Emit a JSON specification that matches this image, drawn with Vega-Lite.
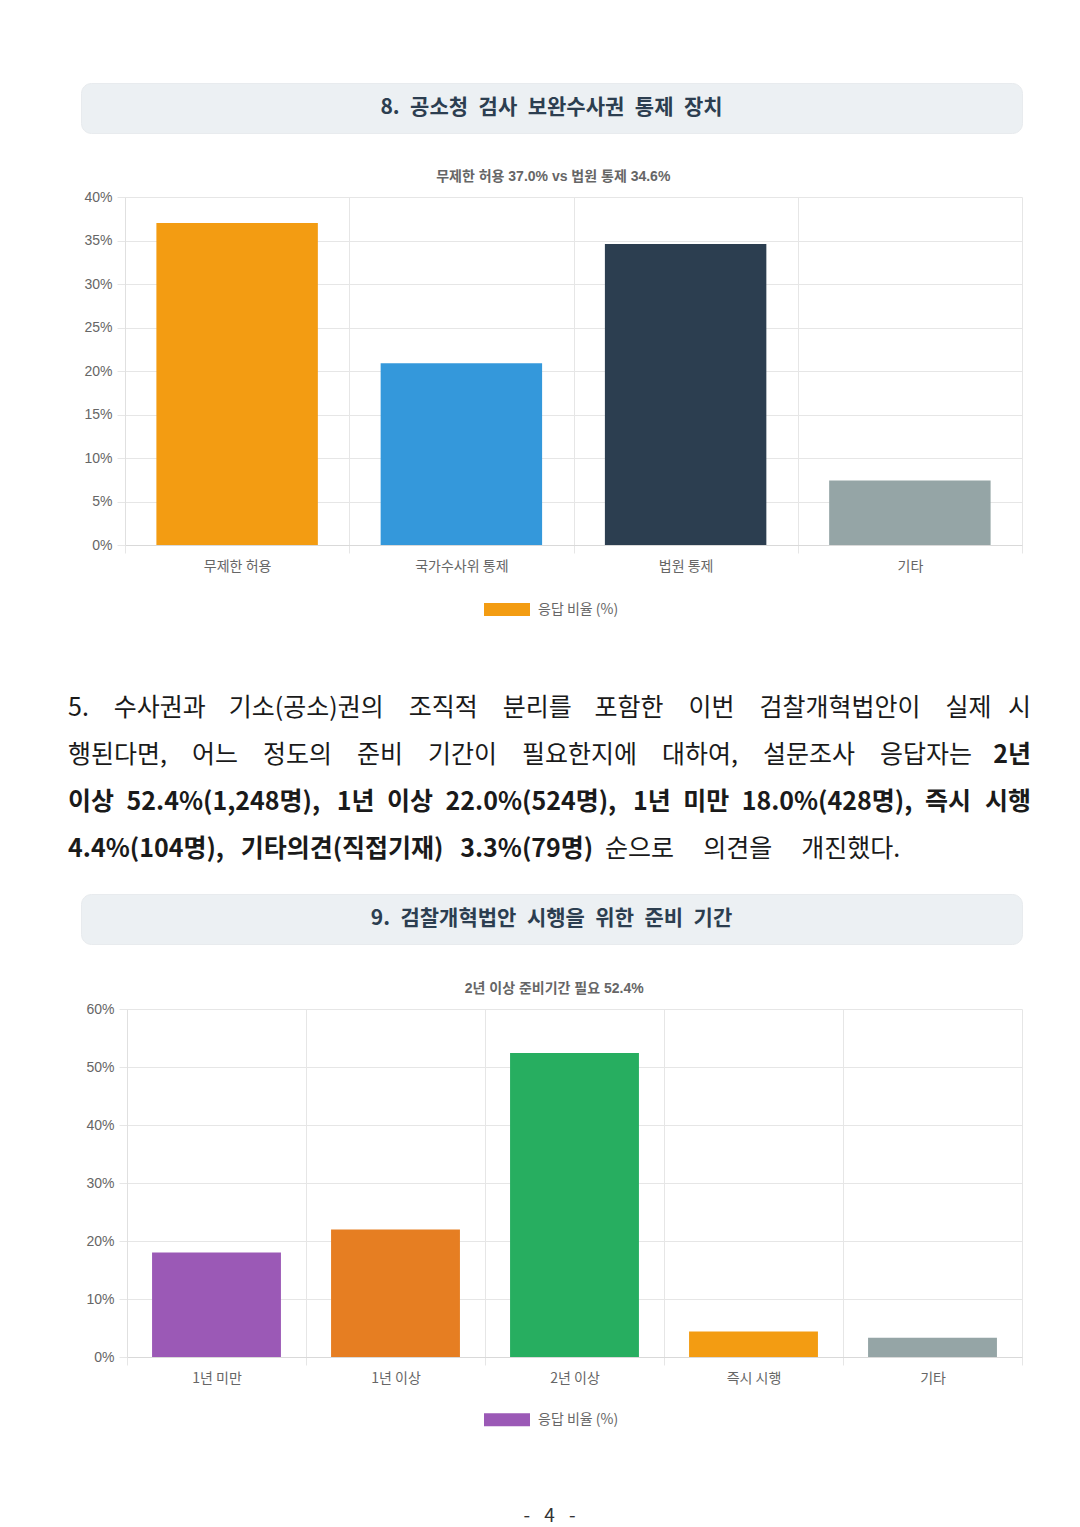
{
  "$schema": "https://vega.github.io/schema/vega-lite/v6.json",
  "background": "white",
  "padding": {"left": 68, "top": 82, "right": 10, "bottom": 10},
  "spacing": 0,
  "config": {
    "view": {"stroke": null},
    "font": "Noto Sans CJK KR",
    "concat": {"spacing": 0}
  },
  "datasets": {
    "chart8": [
      {"category": "무제한 허용", "value": 37.0},
      {"category": "국가수사위 통제", "value": 20.9},
      {"category": "법원 통제", "value": 34.6},
      {"category": "기타", "value": 7.4}
    ],
    "chart9": [
      {"category": "1년 미만", "value": 18.0},
      {"category": "1년 이상", "value": 22.0},
      {"category": "2년 이상", "value": 52.4},
      {"category": "즉시 시행", "value": 4.4},
      {"category": "기타", "value": 3.3}
    ],
    "para_normal_left": [
      {"line": 1, "text": "5.\u2003수사권과\u2002\u2005\u2006기소(공소)권의\u2003조직적\u2003분리를\u2002\u2005\u2006포함한\u2003이번\u2003검찰개혁법안이\u2003실제"},
      {"line": 2, "text": "행된다면,\u2003어느\u2003정도의\u2003준비\u2003기간이\u2003필요한지에\u2003대하여,\u2003설문조사\u2003응답자는"}
    ],
    "para_normal_right": [
      {"line": 1, "text": "시"}
    ],
    "para_bold_left": [
      {"line": 3, "text": "이상\u200252.4%(1,248명),\u2002\u20061년\u2002이상\u200222.0%(524명),\u2002\u20061년\u2002미만\u200218.0%(428명),\u2002즉시"},
      {"line": 4, "text": "4.4%(104명),\u2002\u2006기타의견(직접기재)\u2002\u20063.3%(79명)"}
    ],
    "para_bold_right": [
      {"line": 2, "text": "2년"},
      {"line": 3, "text": "시행"}
    ],
    "para_normal_tail": [
      {"line": 4, "text": "순으로\u2003\u2006의견을\u2003\u2006개진했다."}
    ]
  },
  "vconcat": [
    {
      "spacing": 0,
      "hconcat": [
        {"width": 12, "height": 1, "data": {"values": []}, "mark": "point"},
        {
          "width": 941, "height": 50,
          "view": {"fill": "#ecf0f3", "cornerRadius": 10, "stroke": "#e8ebee", "strokeWidth": 1},
          "data": {"values": [{"t": "8.\u2002공소청\u2002검사\u2002보완수사권\u2002통제\u2002장치"}]},
          "mark": {"type": "text", "fontSize": 21, "fontWeight": "bold", "color": "#2c3e50", "font": "Noto Sans CJK KR", "baseline": "middle"},
          "encoding": {"text": {"field": "t"}}
        }
      ]
    },
    {"width": 1, "height": 36, "data": {"values": []}, "mark": "point"},
    {
      "spacing": 0,
      "hconcat": [
        {"width": 15, "height": 1, "data": {"values": []}, "mark": "point"},
        {
          "width": 897, "height": 348,
          "title": {"text": "무제한 허용 37.0% vs 법원 통제 34.6%", "anchor": "middle", "frame": "bounds", "fontSize": 14, "fontWeight": "bold", "color": "#666666", "font": "Liberation Sans, Noto Sans CJK KR", "offset": 6},
          "layer": [
            {
              "data": {"name": "chart8"},
              "mark": {"type": "bar", "width": {"band": 0.72}},
              "encoding": {
                "x": {"field": "category", "type": "nominal", "sort": null,
                  "scale": {"domain": ["무제한 허용", "국가수사위 통제", "법원 통제", "기타"], "paddingInner": 0, "paddingOuter": 0},
                  "axis": {"title": null, "labelAngle": 0, "tickBand": "extent", "grid": true, "gridColor": "#e6e6e6", "domainColor": "#d9d9d9", "tickColor": "#e6e6e6", "tickSize": 8, "labelPadding": 6, "labelFontSize": 14, "labelColor": "#666666", "labelFont": "Noto Sans CJK KR"}},
                "y": {"field": "value", "type": "quantitative",
                  "scale": {"domain": [0, 40]},
                  "axis": {"title": null, "tickCount": 8, "labelExpr": "datum.value + '%'", "gridColor": "#e6e6e6", "domainColor": "#e0e0e0", "tickColor": "#e6e6e6", "tickSize": 8, "labelPadding": 5, "labelFontSize": 14, "labelColor": "#666666", "labelFont": "Liberation Sans"}},
                "color": {"field": "category", "type": "nominal", "sort": null,
                  "scale": {"domain": ["무제한 허용", "국가수사위 통제", "법원 통제", "기타"], "range": ["#f39c12", "#3498db", "#2c3e50", "#95a5a6"]},
                  "legend": null}
              }
            },
            {
              "data": {"values": [{"category": "무제한 허용", "value": 0, "series": "응답 비율 (%)"}]},
              "mark": {"type": "point", "filled": true, "opacity": 0},
              "encoding": {
                "x": {"field": "category", "type": "nominal", "sort": null},
                "y": {"field": "value", "type": "quantitative"},
                "color": {"field": "series", "type": "nominal",
                  "scale": {"domain": ["응답 비율 (%)"], "range": ["#f39c12"]},
                  "legend": {"orient": "none", "legendX": 359, "legendY": 389.5, "title": null, "symbolType": "M-1,-0.283H1V0.283H-1Z", "symbolSize": 2116, "symbolOpacity": 1, "symbolStrokeWidth": 0, "labelFontSize": 14, "labelColor": "#666666", "labelFont": "Noto Sans CJK KR", "labelOffset": 8, "padding": 0}}
              }
            }
          ],
          "resolve": {"scale": {"color": "independent"}}
        }
      ]
    },
    {"width": 1, "height": 67, "data": {"values": []}, "mark": "point"},
    {
      "width": 963, "height": 189,
      "encoding": {
        "y": {"field": "line", "type": "ordinal", "scale": {"type": "point", "padding": 0.5, "domain": [1, 2, 3, 4]}, "axis": null}
      },
      "layer": [
        {
          "data": {"name": "para_normal_left"},
          "mark": {"type": "text", "align": "left", "baseline": "middle", "fontSize": 25, "font": "Noto Sans CJK KR", "color": "#1a1a1a"},
          "encoding": {"x": {"value": 0}, "text": {"field": "text"}}
        },
        {
          "data": {"name": "para_normal_right"},
          "mark": {"type": "text", "align": "right", "baseline": "middle", "fontSize": 25, "font": "Noto Sans CJK KR", "color": "#1a1a1a"},
          "encoding": {"x": {"value": "width"}, "text": {"field": "text"}}
        },
        {
          "data": {"name": "para_bold_left"},
          "mark": {"type": "text", "align": "left", "baseline": "middle", "fontSize": 25, "fontWeight": "bold", "font": "Noto Sans CJK KR", "color": "#1a1a1a"},
          "encoding": {"x": {"value": 0}, "text": {"field": "text"}}
        },
        {
          "data": {"name": "para_bold_right"},
          "mark": {"type": "text", "align": "right", "baseline": "middle", "fontSize": 25, "fontWeight": "bold", "font": "Noto Sans CJK KR", "color": "#1a1a1a"},
          "encoding": {"x": {"value": "width"}, "text": {"field": "text"}}
        },
        {
          "data": {"name": "para_normal_tail"},
          "mark": {"type": "text", "align": "left", "baseline": "middle", "dx": 537, "fontSize": 25, "font": "Noto Sans CJK KR", "color": "#1a1a1a"},
          "encoding": {"x": {"value": 0}, "text": {"field": "text"}}
        }
      ]
    },
    {"width": 1, "height": 20, "data": {"values": []}, "mark": "point"},
    {
      "spacing": 0,
      "hconcat": [
        {"width": 12, "height": 1, "data": {"values": []}, "mark": "point"},
        {
          "width": 941, "height": 50,
          "view": {"fill": "#ecf0f3", "cornerRadius": 10, "stroke": "#e8ebee", "strokeWidth": 1},
          "data": {"values": [{"t": "9.\u2002검찰개혁법안\u2002시행을\u2002위한\u2002준비\u2002기간"}]},
          "mark": {"type": "text", "fontSize": 21, "fontWeight": "bold", "color": "#2c3e50", "font": "Noto Sans CJK KR", "baseline": "middle"},
          "encoding": {"text": {"field": "t"}}
        }
      ]
    },
    {"width": 1, "height": 37, "data": {"values": []}, "mark": "point"},
    {
      "spacing": 0,
      "hconcat": [
        {"width": 17, "height": 1, "data": {"values": []}, "mark": "point"},
        {
          "width": 895, "height": 348,
          "title": {"text": "2년 이상 준비기간 필요 52.4%", "anchor": "middle", "frame": "bounds", "fontSize": 14, "fontWeight": "bold", "color": "#666666", "font": "Liberation Sans, Noto Sans CJK KR", "offset": 6},
          "layer": [
            {
              "data": {"name": "chart9"},
              "mark": {"type": "bar", "width": {"band": 0.72}},
              "encoding": {
                "x": {"field": "category", "type": "nominal", "sort": null,
                  "scale": {"domain": ["1년 미만", "1년 이상", "2년 이상", "즉시 시행", "기타"], "paddingInner": 0, "paddingOuter": 0},
                  "axis": {"title": null, "labelAngle": 0, "tickBand": "extent", "grid": true, "gridColor": "#e6e6e6", "domainColor": "#d9d9d9", "tickColor": "#e6e6e6", "tickSize": 8, "labelPadding": 6, "labelFontSize": 14, "labelColor": "#666666", "labelFont": "Noto Sans CJK KR"}},
                "y": {"field": "value", "type": "quantitative",
                  "scale": {"domain": [0, 60]},
                  "axis": {"title": null, "tickCount": 7, "labelExpr": "datum.value + '%'", "gridColor": "#e6e6e6", "domainColor": "#e0e0e0", "tickColor": "#e6e6e6", "tickSize": 8, "labelPadding": 5, "labelFontSize": 14, "labelColor": "#666666", "labelFont": "Liberation Sans"}},
                "color": {"field": "category", "type": "nominal", "sort": null,
                  "scale": {"domain": ["1년 미만", "1년 이상", "2년 이상", "즉시 시행", "기타"], "range": ["#9b59b6", "#e67e22", "#27ae60", "#f39c12", "#95a5a6"]},
                  "legend": null}
              }
            },
            {
              "data": {"values": [{"category": "1년 미만", "value": 0, "series": "응답 비율 (%)"}]},
              "mark": {"type": "point", "filled": true, "opacity": 0},
              "encoding": {
                "x": {"field": "category", "type": "nominal", "sort": null},
                "y": {"field": "value", "type": "quantitative"},
                "color": {"field": "series", "type": "nominal",
                  "scale": {"domain": ["응답 비율 (%)"], "range": ["#9b59b6"]},
                  "legend": {"orient": "none", "legendX": 357, "legendY": 387.7, "title": null, "symbolType": "M-1,-0.283H1V0.283H-1Z", "symbolSize": 2116, "symbolOpacity": 1, "symbolStrokeWidth": 0, "labelFontSize": 14, "labelColor": "#666666", "labelFont": "Noto Sans CJK KR", "labelOffset": 8, "padding": 0}}
              }
            }
          ],
          "resolve": {"scale": {"color": "independent"}}
        }
      ]
    },
    {"width": 1, "height": 74, "data": {"values": []}, "mark": "point"},
    {
      "width": 963, "height": 30,
      "data": {"values": [{"t": "-\u2002\u20054\u2002\u2005-"}]},
      "mark": {"type": "text", "fontSize": 19, "color": "#333333", "font": "Noto Sans CJK KR", "baseline": "middle"},
      "encoding": {"text": {"field": "t"}}
    }
  ]
}
